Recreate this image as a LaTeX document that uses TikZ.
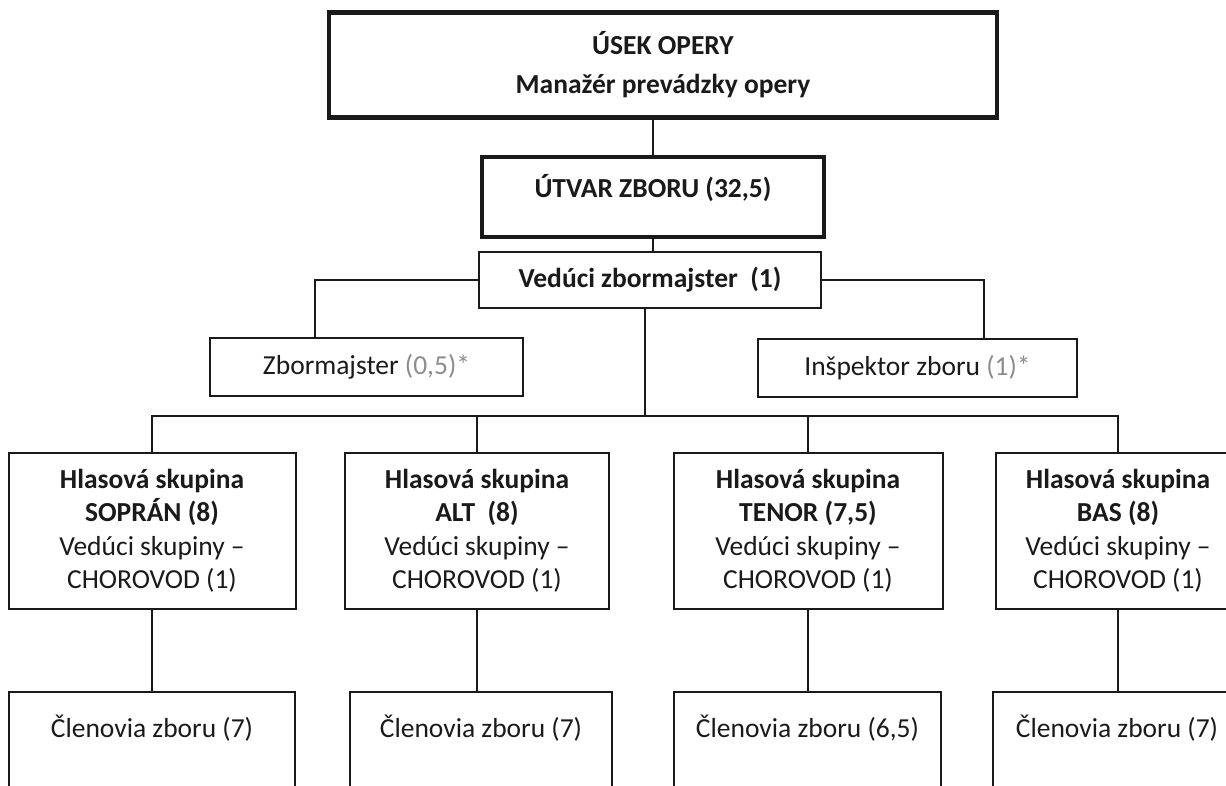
\documentclass[tikz,border=0pt]{standalone}
\usepackage{fontspec}
\setmainfont{Carlito}
\definecolor{ink}{HTML}{1A1A1A}
\definecolor{softgray}{HTML}{8C8C8C}
\begin{document}
\begin{tikzpicture}[x=1pt,y=-1pt,
  txt/.style={font=\fontsize{27.5}{33.5}\selectfont, text=ink, align=center},
  box/.style={txt, draw=ink, line width=2pt, rectangle, inner sep=0pt},
  heavybox/.style={box, line width=4.2pt},
  midbox/.style={box, line width=3.6pt},
  ghost/.style={txt, rectangle, inner sep=0pt},
  link/.style={draw=ink, line width=1.6pt},
  outline/.style={draw=ink, line width=2pt}
]
\useasboundingbox (0,0) rectangle (1226,786);
\clip (0,0) rectangle (1226,786);

% --- management levels ---
\node[heavybox, minimum width=668pt, minimum height=105pt] (usek) at (663,65)
  {\textbf{ÚSEK OPERY}\\[5.5pt]\textbf{Manažér prevádzky opery}};
\node[midbox, minimum width=342pt, minimum height=80pt] (utvar) at (653,197) {};
\node[ghost] (utvartext) at ([yshift=9pt]utvar.center) {\textbf{ÚTVAR ZBORU (32,5)}};
\node[box, minimum width=342pt, minimum height=56pt] (veduci) at (650,280)
  {\textbf{Vedúci zbormajster\ \ (1)}};

\node[box, minimum width=313pt, minimum height=58pt] (zbor) at (366.5,367)
  {Zbormajster \textcolor{softgray}{(0,5)*}};
\node[box, minimum width=319pt, minimum height=58pt] (insp) at (917.5,368)
  {Inšpektor zboru \textcolor{softgray}{(1)*}};

% --- voice groups ---
\node[box, minimum width=287pt, minimum height=156pt] (sop) at (152,531)
  {\textbf{Hlasová skupina}\\\textbf{SOPRÁN (8)}\\Vedúci skupiny –\\CHOROVOD (1)};
\node[box, minimum width=264pt, minimum height=156pt] (alt) at (477,531)
  {\textbf{Hlasová skupina}\\\textbf{ALT\ \ (8)}\\Vedúci skupiny –\\CHOROVOD (1)};
\node[box, minimum width=269pt, minimum height=156pt] (ten) at (808,531)
  {\textbf{Hlasová skupina}\\\textbf{TENOR (7,5)}\\Vedúci skupiny –\\CHOROVOD (1)};
\node[box, minimum width=244pt, minimum height=156pt] (bas) at (1118,531)
  {\textbf{Hlasová skupina}\\\textbf{BAS (8)}\\Vedúci skupiny –\\CHOROVOD (1)};

% --- chorus members (boxes run on past the lower edge) ---
\node[ghost, minimum width=286pt, minimum height=72pt] (m1) at (152,728) {Členovia zboru (7)};
\node[ghost, minimum width=262pt, minimum height=72pt] (m2) at (481,728) {Členovia zboru (7)};
\node[ghost, minimum width=267pt, minimum height=72pt] (m3) at (807.5,728) {Členovia zboru (6,5)};
\node[ghost, minimum width=248pt, minimum height=72pt] (m4) at (1117,728) {Členovia zboru (7)};
\foreach \m in {m1,m2,m3,m4}
  \draw[outline] ([yshift=-80pt]\m.south west) -- (\m.north west)
                 -- (\m.north east) -- ([yshift=-80pt]\m.south east);

% --- connectors ---
\coordinate (bus) at (645,416);
\coordinate (zdrop) at (315,0);
\coordinate (idrop) at (984,0);

\draw[link] (usek.south -| utvar.north) -- (utvar.north);
\draw[link] (utvar.south) -- (veduci.north -| utvar.south);
\draw[link] (veduci.west) -| (zbor.north -| zdrop);
\draw[link] (veduci.east) -| (insp.north -| idrop);
\draw[link] (veduci.south -| bus) -- (bus);
\draw[link] (sop.north) |- (bus) -| (bas.north);
\draw[link] (alt.north) -- (alt.north |- bus);
\draw[link] (ten.north) -- (ten.north |- bus);

\draw[link] (sop.south) -- (sop.south |- m1.north);
\draw[link] (alt.south) -- (alt.south |- m2.north);
\draw[link] (ten.south) -- (ten.south |- m3.north);
\draw[link] (bas.south) -- (bas.south |- m4.north);
\end{tikzpicture}
\end{document}
